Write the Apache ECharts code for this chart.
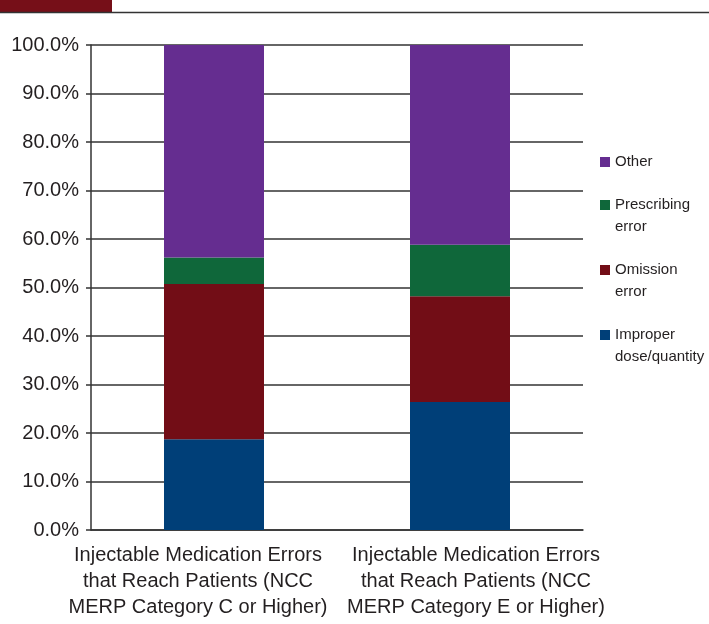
<!DOCTYPE html>
<html>
<head>
<meta charset="utf-8">
<script src="https://cdn.jsdelivr.net/npm/echarts@6/dist/echarts.min.js"></script>
<style>
  html, body { margin: 0; padding: 0; background: #fff; }
  #chart { width: 709px; height: 624px; }
</style>
</head>
<body>
<div id="chart"></div>
<script>
// Shares of error types (percent of errors in each group)
const categories = [
  'Injectable Medication Errors\nthat Reach Patients (NCC\nMERP Category C or Higher)',
  'Injectable Medication Errors\nthat Reach Patients (NCC\nMERP Category E or Higher)'
];
const improperDose = [18.7, 26.4];
const omissionError = [32.0, 21.8];
const prescribingError = [5.5, 10.6];
const otherError = [43.8, 41.2];

const seriesNames = ['Improper\ndose/quantity', 'Omission\nerror', 'Prescribing\nerror', 'Other'];
const seriesValues = [improperDose, omissionError, prescribingError, otherError];
const seriesColors = ['#003f78', '#720d16', '#0f673a', '#652d90'];

const yTicks = { min: 0, max: 100, interval: 10 };

const FONT = '"Liberation Sans", Arial, sans-serif';
const INK = '#231f20';

// Legend swatches: a plain square for one-line names; for two-line names the
// square sits at the top of a taller box so it lines up with the first line.
const SQUARE_ICON = 'path://M0,0H10V10H0Z';
const TOP_SQUARE_ICON = 'path://M0,0H10V10H0Z M0,32H0.01V32.01H0Z';

const chart = echarts.init(document.getElementById('chart'), null, { renderer: 'canvas' });

const legendData = seriesNames.slice().reverse().map(name => ({
  name: name,
  icon: name.indexOf('\n') >= 0 ? TOP_SQUARE_ICON : SQUARE_ICON
}));

chart.setOption({
  animation: false,
  backgroundColor: '#fff',
  graphic: [
    { type: 'rect', shape: { x: 0, y: 0, width: 112, height: 12 }, style: { fill: '#760f18' } },
    { type: 'line', shape: { x1: 0, y1: 12.5, x2: 709, y2: 12.5 }, style: { stroke: '#333', lineWidth: 1.5 } }
  ],
  grid: { left: 91, right: 126, top: 45, bottom: 94, containLabel: false },
  legend: {
    orient: 'vertical',
    left: 600,
    top: 151,
    padding: 0,
    itemWidth: 10,
    itemHeight: 32,
    itemGap: 21,
    symbolKeepAspect: true,
    textStyle: { fontFamily: FONT, fontSize: 15, color: INK, lineHeight: 22 },
    data: legendData
  },
  xAxis: {
    type: 'category',
    data: categories,
    axisLine: { lineStyle: { color: '#333', width: 1.5 } },
    axisTick: { show: false },
    axisLabel: {
      interval: 0,
      margin: 12,
      fontFamily: FONT,
      fontSize: 20,
      lineHeight: 26,
      color: INK,
      formatter: (v, i) => v.split('\n').map(s => (i === 0 ? '{a|' : '{b|') + s + '}').join('\n'),
      rich: {
        a: { fontFamily: FONT, fontSize: 20, lineHeight: 26, color: INK, padding: [0, 32, 0, 0] },
        b: { fontFamily: FONT, fontSize: 20, lineHeight: 26, color: INK, padding: [0, 0, 0, 32] }
      }
    }
  },
  yAxis: {
    type: 'value',
    min: yTicks.min,
    max: yTicks.max,
    interval: yTicks.interval,
    axisLine: { show: true, lineStyle: { color: '#333', width: 1.5 } },
    axisTick: { show: true, length: 5, lineStyle: { color: '#333', width: 1.5 } },
    splitLine: { lineStyle: { color: '#333', width: 1.5 } },
    axisLabel: {
      margin: 12,
      fontFamily: FONT,
      fontSize: 20,
      color: INK,
      formatter: v => v.toFixed(1) + '%'
    }
  },
  series: seriesNames.map((name, k) => ({
    name: name,
    type: 'bar',
    stack: 'total',
    barWidth: 100,
    itemStyle: { color: seriesColors[k] },
    data: seriesValues[k]
  }))
});
</script>
</body>
</html>
